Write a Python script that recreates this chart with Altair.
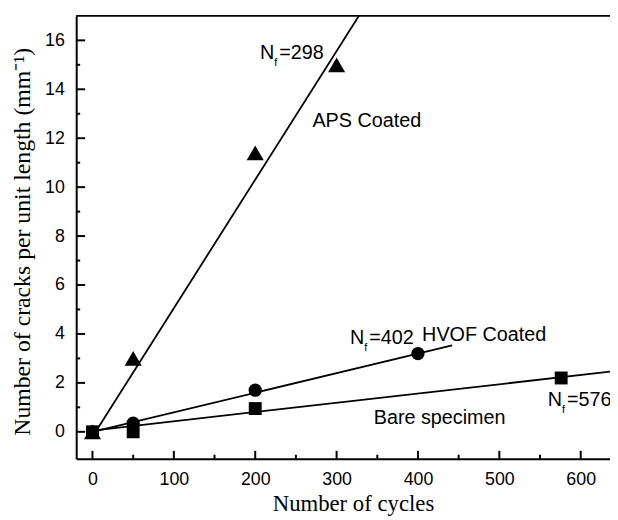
import altair as alt
import pandas as pd

# --- measured data -------------------------------------------------------
cycles_aps = [0, 50, 200, 300]
cracks_aps = [0.0, 3.0, 11.4, 15.0]
cycles_hvof = [0, 50, 200, 400]
cracks_hvof = [0.0, 0.35, 1.7, 3.2]
cycles_bare = [0, 50, 200, 576]
cracks_bare = [0.0, 0.0, 0.95, 2.2]

# linear fit lines (end points)
fit_aps_x = [0, 335]
fit_aps_y = [-0.2, 17.4]
fit_hvof_x = [0, 442]
fit_hvof_y = [0.0, 3.53]
fit_bare_x = [0, 636]
fit_bare_y = [0.05, 2.46]

# ticks
x_major = [0, 100, 200, 300, 400, 500, 600]
x_minor = [50, 150, 250, 350, 450, 550]
y_major = [0, 2, 4, 6, 8, 10, 12, 14, 16]
y_minor = [1, 3, 5, 7, 9, 11, 13, 15]

# annotations (data coordinates)
name_labels = ["APS Coated", "HVOF Coated", "Bare specimen"]
name_x = [270.3, 405.1, 345.6]
name_y = [12.47, 3.71, 0.31]
nf_values = ["=298", "=402", "=576"]
nf_x = [205.9, 316.4, 559.4]
nf_y = [15.22, 3.59, 1.04]

W, H = 540, 448
xscale = alt.Scale(domain=[-20, 636], nice=False, zero=False)
yscale = alt.Scale(domain=[-1.1, 17], nice=False, zero=False)

xaxis = alt.Axis(values=x_major, title="Number of cycles", ticks=False, grid=False,
                 labelPadding=12, labelFont="Liberation Sans", labelFontSize=18,
                 labelColor="black", domainColor="black", domainWidth=2,
                 labelFlush=False, labelOverlap=False,
                 titleFont="Liberation Serif", titleFontSize=23, titleFontWeight="normal",
                 titleColor="black", titleX=280, titleY=52, titleBaseline="alphabetic")
yaxis = alt.Axis(values=y_major, title="Number of cracks per unit length (mm⁻¹)",
                 ticks=False, grid=False,
                 labelPadding=12, labelFont="Liberation Sans", labelFontSize=18,
                 labelColor="black", domainColor="black", domainWidth=2,
                 labelFlush=False, labelOverlap=False,
                 titleFont="Liberation Serif", titleFontSize=24, titleFontWeight="normal",
                 titleColor="black", titleX=-47, titleY=228, titleBaseline="alphabetic")


def X():
    return alt.X("x:Q", scale=xscale, axis=xaxis)


def Y():
    return alt.Y("y:Q", scale=yscale, axis=yaxis)


def df(xs, ys):
    return pd.DataFrame({"x": xs, "y": ys})


layers = []
# fit lines
for fx, fy in [(fit_aps_x, fit_aps_y), (fit_hvof_x, fit_hvof_y), (fit_bare_x, fit_bare_y)]:
    layers.append(alt.Chart(df(fx, fy)).mark_line(color="black", strokeWidth=1.8, clip=True)
                  .encode(x=X(), y=Y()))

# markers
for xs, ys, shape, size in [(cycles_bare, cracks_bare, "square", 170),
                            (cycles_hvof, cracks_hvof, "circle", 180),
                            (cycles_aps, cracks_aps, "triangle-up", 300)]:
    layers.append(alt.Chart(df(xs, ys)).mark_point(filled=True, shape=shape, size=size,
                                                   color="black", opacity=1)
                  .encode(x=X(), y=Y()))

# inward ticks
xt_major = pd.DataFrame({"x": x_major})
xt_minor = pd.DataFrame({"x": x_minor})
yt_major = pd.DataFrame({"y": y_major})
yt_minor = pd.DataFrame({"y": y_minor})
layers.append(alt.Chart(xt_major).mark_rule(color="black", strokeWidth=2)
              .encode(x=X(), y=alt.value(H), y2=alt.value(H - 8)))
layers.append(alt.Chart(xt_minor).mark_rule(color="black", strokeWidth=2)
              .encode(x=X(), y=alt.value(H), y2=alt.value(H - 4)))
layers.append(alt.Chart(yt_major).mark_rule(color="black", strokeWidth=2)
              .encode(y=Y(), x=alt.value(0), x2=alt.value(9)))
layers.append(alt.Chart(yt_minor).mark_rule(color="black", strokeWidth=2)
              .encode(y=Y(), x=alt.value(0), x2=alt.value(4)))

# top border
layers.append(alt.Chart(pd.DataFrame({"a": [0]})).mark_rule(color="black", strokeWidth=2)
              .encode(x=alt.value(0), x2=alt.value(W), y=alt.value(0)))

# annotations
names = pd.DataFrame({"x": name_x, "y": name_y, "t": name_labels})
layers.append(alt.Chart(names).mark_text(align="left", baseline="alphabetic",
                                         font="Liberation Sans", fontSize=20, color="black")
              .encode(x=X(), y=Y(), text="t:N"))

nf = pd.DataFrame({"x": nf_x, "y": nf_y, "t": nf_values})
layers.append(alt.Chart(nf).mark_text(align="left", baseline="alphabetic",
                                      font="Liberation Sans", fontSize=20, color="black")
              .encode(x=X(), y=Y(), text=alt.value("N")))
layers.append(alt.Chart(nf).mark_text(align="left", baseline="alphabetic", dx=14.5, dy=7,
                                      font="Liberation Sans", fontSize=11, color="black")
              .encode(x=X(), y=Y(), text=alt.value("f")))
layers.append(alt.Chart(nf).mark_text(align="left", baseline="alphabetic", dx=19.5,
                                      font="Liberation Sans", fontSize=20, color="black")
              .encode(x=X(), y=Y(), text="t:N"))

chart = alt.layer(*layers).properties(
    width=W, height=H,
    autosize=alt.AutoSizeParams(type="none"),
    padding={"left": 69, "top": 5, "right": 0, "bottom": 58},
    background="white",
).configure_view(stroke=None)

chart.save("out.html", embed_options={"renderer": "svg", "actions": False})
